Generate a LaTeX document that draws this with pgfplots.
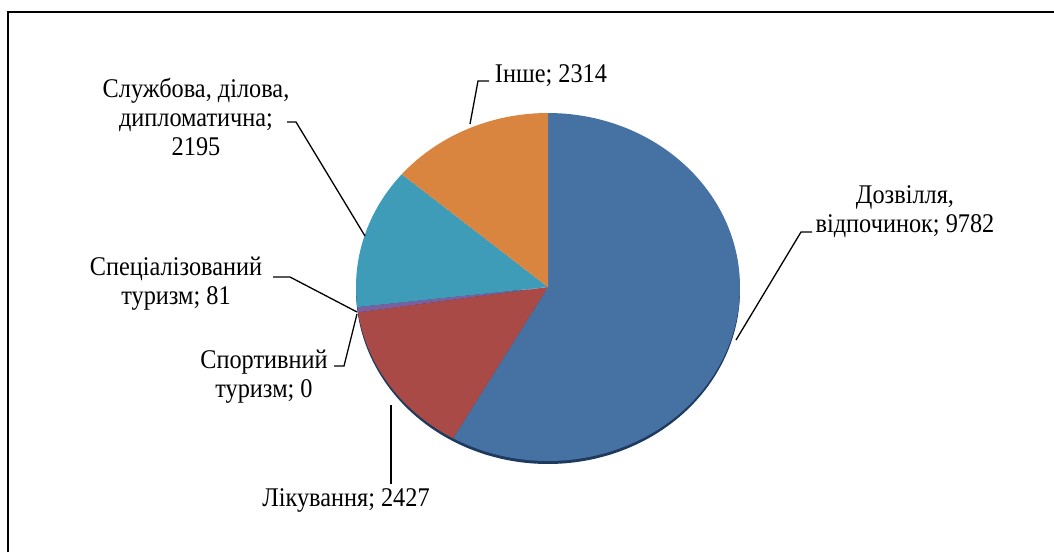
\documentclass[border=0pt]{standalone}
\usepackage{fontspec}
\setmainfont{Liberation Serif}[FakeStretch=0.9]
\usepackage{pgfplots}
\pgfplotsset{compat=1.18}
\definecolor{cBlue}{HTML}{4571A3}
\definecolor{cRed}{HTML}{A94A46}
\definecolor{cGreen}{HTML}{8AA64A}
\definecolor{cPurple}{HTML}{7B5F9E}
\definecolor{cTeal}{HTML}{3F9CB8}
\definecolor{cOrange}{HTML}{DA853F}
\definecolor{cShadow}{HTML}{1F3A5F}
% values
\newcommand\vA{9782}% Дозвілля, відпочинок
\newcommand\vB{2427}% Лікування
\newcommand\vC{0}% Спортивний туризм
\newcommand\vD{81}% Спеціалізований туризм
\newcommand\vE{2195}% Службова, ділова, дипломатична
\newcommand\vF{2314}% Інше
\begin{document}
\begin{tikzpicture}
\pgfmathsetmacro\tot{\vA/1000+\vB/1000+\vC/1000+\vD/1000+\vE/1000+\vF/1000}
\pgfmathsetmacro\aA{90}
\pgfmathsetmacro\aB{\aA-360*(\vA/1000)/\tot}
\pgfmathsetmacro\aC{\aB-360*(\vB/1000)/\tot}
\pgfmathsetmacro\aD{\aC-360*(\vC/1000)/\tot}
\pgfmathsetmacro\aE{\aD-360*(\vD/1000)/\tot}
\pgfmathsetmacro\aF{\aE-360*(\vE/1000)/\tot}
\pgfmathsetmacro\aG{\aF-360*(\vF/1000)/\tot}
\useasboundingbox (0,0) rectangle (1054pt,552pt);
\begin{axis}[scale only axis, width=1054pt, height=552pt,
  xmin=0, xmax=1054, ymin=0, ymax=552, y dir=reverse,
  hide axis, clip=false, anchor=south west, at={(0,0)}]
% frame
\addplot[black, line width=1.6pt] coordinates {(8,552) (8,12) (1054,12)};
% shadow
\addplot[fill=cShadow, draw=none, domain=180:360, samples=120, variable=\t]
  ({548+192*cos(\t)},{290-174*sin(\t)}) -- cycle;
% sectors
\addplot[fill=cBlue, draw=none, domain=\aB:\aA, samples=120, variable=\t]
  ({548+192*cos(\t)},{287-174*sin(\t)}) -- (548,287) -- cycle;
\addplot[fill=cRed, draw=none, domain=\aC:\aB, samples=40, variable=\t]
  ({548+192*cos(\t)},{287-174*sin(\t)}) -- (548,287) -- cycle;
\addplot[fill=cPurple, draw=none, domain=\aE:\aD, samples=5, variable=\t]
  ({548+192*cos(\t)},{287-174*sin(\t)}) -- (548,287) -- cycle;
\addplot[fill=cTeal, draw=none, domain=\aF:\aE, samples=40, variable=\t]
  ({548+192*cos(\t)},{287-174*sin(\t)}) -- (548,287) -- cycle;
\addplot[fill=cOrange, draw=none, domain=\aG:\aF, samples=40, variable=\t]
  ({548+192*cos(\t)},{287-174*sin(\t)}) -- (548,287) -- cycle;
% leader lines
\addplot[black, line width=1.3pt] coordinates {(489,81) (478,81) (470,124)};
\addplot[black, line width=1.3pt] coordinates {(287,122) (296,122) (365,236)};
\addplot[black, line width=1.3pt] coordinates {(273,277) (290,277) (357,312)};
\addplot[black, line width=1.3pt] coordinates {(334,366) (344,366) (357,314)};
\addplot[black, line width=1.3pt] coordinates {(391,484) (391,405)};
\addplot[black, line width=1.3pt] coordinates {(812,232) (801,232) (736,340)};
% labels
\begin{scope}[every node/.style={align=center, inner sep=0pt, font=\fontsize{27}{29}\selectfont}]
\node at (551,76) {Інше; 2314};
\node at (196,117) {Службова, ділова,\\дипломатична;\\2195};
\node at (176,284) {Спеціалізований\\туризм; 81};
\node at (264,377) {Спортивний\\туризм; 0};
\node at (346,500) {Лікування; 2427};
\node at (905,212) {Дозвілля,\\відпочинок; 9782};
\end{scope}
\end{axis}
\end{tikzpicture}
\end{document}
